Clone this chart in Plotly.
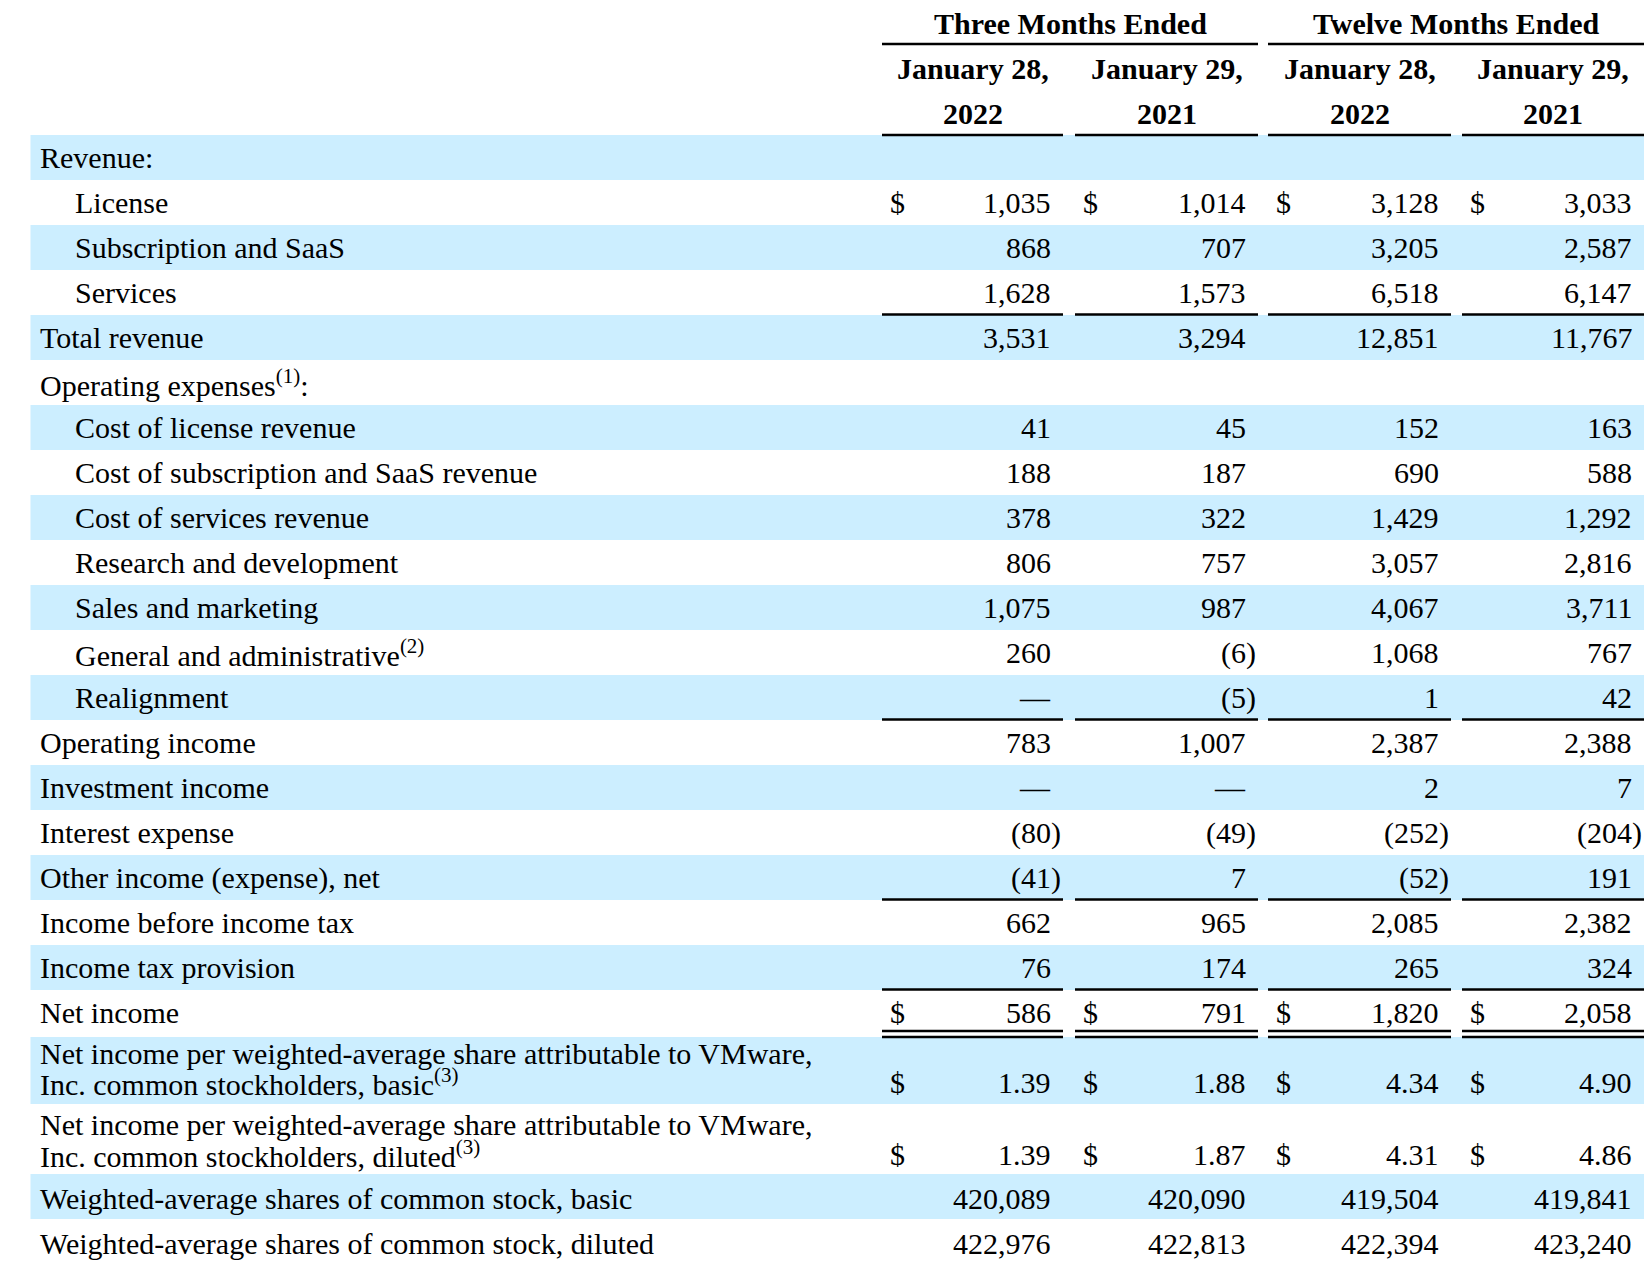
import plotly.graph_objects as go

# ---------------- data ----------------
row_labels = [
    "Revenue:",
    "License",
    "Subscription and SaaS",
    "Services",
    "Total revenue",
    "Operating expenses<sup>(1)</sup>:",
    "Cost of license revenue",
    "Cost of subscription and SaaS revenue",
    "Cost of services revenue",
    "Research and development",
    "Sales and marketing",
    "General and administrative<sup>(2)</sup>",
    "Realignment",
    "Operating income",
    "Investment income",
    "Interest expense",
    "Other income (expense), net",
    "Income before income tax",
    "Income tax provision",
    "Net income",
    "Net income per weighted-average share attributable to VMware,<br>Inc. common stockholders, basic<sup>(3)</sup>",
    "Net income per weighted-average share attributable to VMware,<br>Inc. common stockholders, diluted<sup>(3)</sup>",
    "Weighted-average shares of common stock, basic",
    "Weighted-average shares of common stock, diluted",
]
row_indent = [0, 1, 1, 1, 0, 0, 1, 1, 1, 1, 1, 1, 1, 0, 0, 0, 0, 0, 0, 0, 0, 0, 0, 0]

group_headers = ["Three Months Ended", "Twelve Months Ended"]
column_headers = ["January 28,<br>2022", "January 29,<br>2021", "January 28,<br>2022", "January 29,<br>2021"]

three_months_2022 = [None, 1035, 868, 1628, 3531, None, 41, 188, 378, 806, 1075, 260, 0, 783, 0, -80, -41, 662, 76, 586, 1.39, 1.39, 420089, 422976]
three_months_2021 = [None, 1014, 707, 1573, 3294, None, 45, 187, 322, 757, 987, -6, -5, 1007, 0, -49, 7, 965, 174, 791, 1.88, 1.87, 420090, 422813]
twelve_months_2022 = [None, 3128, 3205, 6518, 12851, None, 152, 690, 1429, 3057, 4067, 1068, 1, 2387, 2, -252, -52, 2085, 265, 1820, 4.34, 4.31, 419504, 422394]
twelve_months_2021 = [None, 3033, 2587, 6147, 11767, None, 163, 588, 1292, 2816, 3711, 767, 42, 2388, 7, -204, 191, 2382, 324, 2058, 4.90, 4.86, 419841, 423240]

dollar_rows = [1, 19, 20, 21]
decimal_rows = [20, 21]
shaded_rows = [0, 2, 4, 6, 8, 10, 12, 14, 16, 18, 20, 22]
single_rule_after = [3, 12, 16, 18]
double_rule_after = [19]

# ---------------- layout geometry ----------------
W, H = 1652, 1264
OFF = 8  # default page body margin
FONT = "Liberation Serif, Times New Roman, serif"
FS = 30
BAND = "#CCEEFF"

row_heights = [45] * 19 + [45, 69, 70, 45, 45]
row_top = [135]
for h in row_heights[:-1]:
    row_top.append(row_top[-1] + h)
row_bottom = [t + h for t, h in zip(row_top, row_heights)]
two_line_offsets = {20: (18, 47), 21: (20, 50)}
row_text_shift = {22: 2, 23: 2}

col_spans = [(882, 1063), (1075, 1258), (1268, 1451), (1462, 1644)]
group_spans = [(882, 1258), (1268, 1644)]
band_left, band_right = 30.5, 1644

columns = [three_months_2022, three_months_2021, twelve_months_2022, twelve_months_2021]


def fmt(v, r):
    if v is None:
        return ""
    if v == 0:
        return "\u2014"
    if r in decimal_rows:
        s = f"{abs(v):.2f}"
    else:
        s = f"{abs(v):,}"
    return f"({s})" if v < 0 else s


shapes = []
annotations = []

# bands
for r in shaded_rows:
    y0 = row_top[r] + (2 if r == 20 else 0)
    shapes.append(dict(type="rect", xref="x", yref="y", x0=band_left, x1=band_right,
                       y0=y0, y1=row_bottom[r], fillcolor=BAND, line_width=0, layer="below"))

def hline(x0, x1, y, w=2.6):
    shapes.append(dict(type="line", xref="x", yref="y", x0=x0, x1=x1, y0=y, y1=y,
                       line=dict(color="black", width=w)))

# header rules
for (a, b) in group_spans:
    hline(a, b, 44)
for (a, b) in col_spans:
    hline(a, b, 135)

# body rules
for r in single_rule_after:
    for (a, b) in col_spans:
        hline(a, b, row_bottom[r] - 0.5)
for r in double_rule_after:
    for (a, b) in col_spans:
        hline(a, b, 1031)
        hline(a, b, 1037)


def ann(text, x, y, xanchor="left", bold=False, size=FS):
    annotations.append(dict(text=f"<b>{text}</b>" if bold else text, x=x, y=y, xref="x", yref="y",
                            xanchor=xanchor, yanchor="middle", showarrow=False,
                            font=dict(family=FONT, size=size, color="black"), borderpad=0))

# headers
for g, (a, b) in zip(group_headers, group_spans):
    ann(g, (a + b) / 2, 23.5, "center", bold=True)
for hdr, (a, b) in zip(column_headers, col_spans):
    l1, l2 = hdr.split("<br>")
    ann(l1, (a + b) / 2, 68, "center", bold=True)
    ann(l2, (a + b) / 2, 113, "center", bold=True)

# labels + values
for r, lab in enumerate(row_labels):
    x = 73.5 if row_indent[r] else 38.5
    parts = lab.split("<br>")
    if len(parts) == 2:
        o1, o2 = two_line_offsets[r]
        ann(parts[0], x, row_top[r] + o1)
        ann(parts[1], x, row_top[r] + o2)
        yv = row_top[r] + o2
    else:
        yv = (row_top[r] + row_bottom[r]) / 2 + row_text_shift.get(r, 0)
        ann(lab, x, yv)
    for ci, col in enumerate(columns):
        a, b = col_spans[ci]
        s = fmt(col[r], r)
        if not s:
            continue
        right = b - 11.5
        if s.startswith("("):
            right += 10
        ann(s, right, yv, "right")
        if r in dollar_rows:
            ann("$", a + 7, yv, "left")

fig = go.Figure()
fig.add_trace(go.Scatter(x=[OFF, W], y=[OFF, H], mode="markers", marker=dict(opacity=0),
                         hoverinfo="skip", showlegend=False))
fig.update_layout(
    width=W - OFF, height=H - OFF, margin=dict(l=0, r=0, t=0, b=0),
    paper_bgcolor="white", plot_bgcolor="white",
    xaxis=dict(range=[OFF, W], visible=False, fixedrange=True),
    yaxis=dict(range=[H, OFF], visible=False, fixedrange=True),
    shapes=shapes, annotations=annotations, showlegend=False,
)
fig.write_html("out.html", config={"displayModeBar": False})
